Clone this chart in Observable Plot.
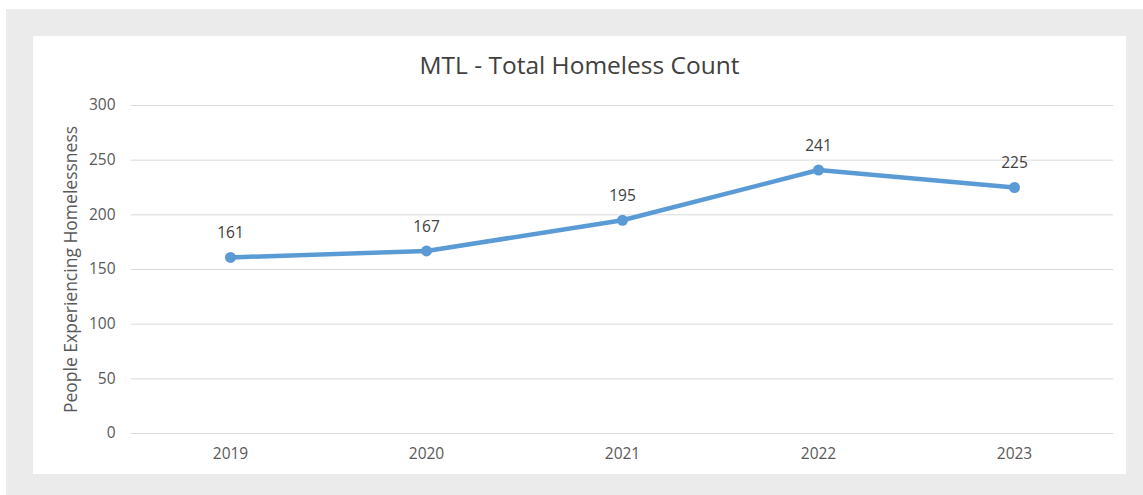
<!DOCTYPE html>
<html>
<head>
<meta charset="utf-8">
<script src="https://cdn.jsdelivr.net/npm/d3@7"></script>
<script src="https://cdn.jsdelivr.net/npm/@observablehq/plot@0.6"></script>
<style>
  html, body { margin: 0; padding: 0; background: #ffffff; }
  body { width: 1143px; height: 495px; position: relative; overflow: hidden; font-family: "Open Sans", "Noto Sans", sans-serif; }
  #outer { position: absolute; left: 6px; top: 9px; width: 1137px; height: 486px; background: #ebebeb; }
  #panel { position: absolute; left: 33px; top: 36px; width: 1093px; height: 438px; background: #ffffff; }
  #title { position: absolute; left: 0; top: 16px; width: 100%; text-align: center; font-size: 24.5px; line-height: 26px; color: #404040; }
  #chart { position: absolute; left: 0; top: 42px; }
</style>
</head>
<body>
<div id="outer"></div>
<div id="panel">
  <div id="title">MTL - Total Homeless Count</div>
  <div id="chart"></div>
</div>
<script>
const years = ["2019", "2020", "2021", "2022", "2023"];
const counts = [161, 167, 195, 241, 225];
const yTicks = [0, 50, 100, 150, 200, 250, 300];
const yLabel = "People Experiencing Homelessness";

const data = years.map((y, i) => ({year: y, count: counts[i]}));

const chart = Plot.plot({
  width: 1093,
  height: 396,
  marginLeft: 98,
  marginRight: 13,
  marginTop: 27,
  marginBottom: 41,
  style: { fontFamily: "'Open Sans', 'Noto Sans', sans-serif", background: "transparent", color: "#595959", overflow: "visible" },
  x: { type: "point", domain: years, padding: 0.5, label: null },
  y: { domain: [0, 300], ticks: yTicks, label: null },
  marks: [
    Plot.gridY(yTicks, { stroke: "#d9d9d9", strokeOpacity: 1, strokeWidth: 1 }),
    Plot.axisY(yTicks, { tickSize: 0, tickPadding: 16, fontSize: 15.5, fill: "#595959", label: null }),
    Plot.axisX(years, { tickSize: 0, tickPadding: 14, fontSize: 15.5, fill: "#595959", label: null }),
    Plot.text([yLabel], { frameAnchor: "left", textAnchor: "middle", dx: -60, rotate: -90, fontSize: 17.5, fill: "#595959" }),
    Plot.line(data, { x: "year", y: "count", stroke: "#5b9bd5", strokeWidth: 4.5, curve: "linear" }),
    Plot.dot(data, { x: "year", y: "count", r: 5.5, fill: "#5b9bd5", stroke: "none" }),
    Plot.text(data, { x: "year", y: "count", text: d => String(d.count), dy: -24, fontSize: 15.5, fill: "#404040" })
  ]
});
document.getElementById("chart").appendChild(chart);
</script>
</body>
</html>
